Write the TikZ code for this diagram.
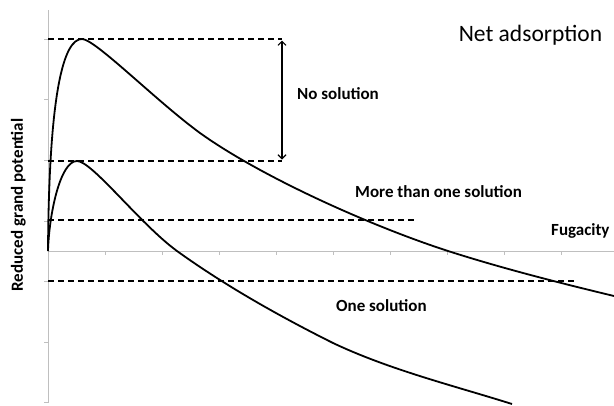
\documentclass[tikz,border=0pt]{standalone}
\usepackage{fontspec}
\setmainfont{Carlito}
\usetikzlibrary{arrows,arrows.meta}

\tikzset{
	curve/.style={line width=1.8pt},
	level/.style={dash pattern=on 6pt off 4pt,line width=1.1pt},
	axis/.style={gray!50,line width=1pt},
	lab/.style={font=\fontsize{17}{20}\selectfont\bfseries,anchor=base west,inner sep=0pt}
}

\begin{document}
\begin{tikzpicture}[x=1pt,y=-1pt]
	\useasboundingbox (0,0) rectangle (614,405);

	\draw[axis] (48,10)--(48,403);
	\draw[axis] (48,251)--(614,251);
	\foreach \k in {0,...,6}
		\draw[axis] (44,39.3+60.6*\k)--(48,39.3+60.6*\k);
	\foreach \k in {1,...,9}
		\draw[axis] (48+57.1*\k,251)--(48+57.1*\k,255);

	\coordinate (top) at (282,39);
	\coordinate (mid) at (282,161);
	\draw[level] (48,39)--(top);
	\draw[level] (48,161)--(mid);
	\draw[level] (48,220)--(416,220);
	\draw[level] (48,281)--(576,281);
	\draw[{Straight Barb[length=4pt,width=8pt]}-{Straight Barb[length=4pt,width=8pt]},line width=1.1pt]
		([yshift=-1.5pt]top)--([yshift=1.5pt]mid);

	\draw[curve] (48,251) .. controls (49,90) and (64,39) .. (82,39)
		.. controls (95,39) and (155,100) .. (200,133)
		.. controls (260,176) and (368,225) .. (448,251)
		.. controls (503,268.6) and (560,283) .. (614,296);
	\draw[curve] (48,251) .. controls (49,215) and (60,161) .. (77,161)
		.. controls (92,161) and (140,224) .. (177,251)
		.. controls (227,287) and (283,318) .. (333,343)
		.. controls (390,370) and (455,386) .. (512,404);

	\node[font=\fontsize{23.5}{28}\selectfont,anchor=base,inner sep=0pt] (title) at (530.5,41) {Net adsorption};
	\node[lab] (nosol) at (297,99) {No solution};
	\node[lab] (manysol) at (355,197) {More than one solution};
	\node[lab] (fug) at (551,235) {Fugacity};
	\node[lab] (onesol) at (336,311) {One solution};
	\node[lab,anchor=base,rotate=90] (ylab) at (23,205) {Reduced grand potential};
\end{tikzpicture}
\end{document}
